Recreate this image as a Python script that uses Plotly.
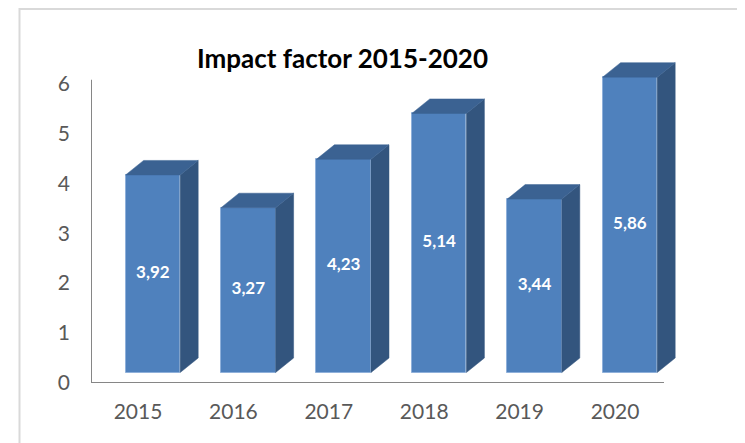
import plotly.graph_objects as go

# ---- data ----
years = ["2015", "2016", "2017", "2018", "2019", "2020"]
impact = [3.92, 3.27, 4.23, 5.14, 3.44, 5.86]
y_ticks = [0, 1, 2, 3, 4, 5, 6]
title_text = "Impact factor 2015-2020"

# ---- layout geometry (pixels, figure coordinates; page body adds 8px) ----
OFF = 8
W, H = 745, 443
L = 91 - OFF
T = 40 - OFF
plot_right = 705 - OFF
plot_bottom = 383 - OFF
R = W - plot_right
B = H - plot_bottom
plot_w = W - L - R
plot_h = H - T - B

PX_X = 95.4            # px per category
tick0_px = 138 - OFF   # centre of first category label
x_lo = -(tick0_px - L) / PX_X
x_hi = x_lo + plot_w / PX_X

PX_Y_AXIS = 49.95      # px per unit on the labelled axis
y_hi = plot_h / PX_Y_AXIS

PX_Y_BAR = 50.4        # px per unit on the bar (front) plane
base_px = 10.5         # front plane floor above the axis line
y2_lo = -base_px / PX_Y_BAR
y2_hi = y2_lo + plot_h / PX_Y_BAR

shift = 14.9 / PX_X    # bar front centre offset from label
half = 27.3 / PX_X     # half front width
dx = 18.0 / PX_X       # depth offsets
dy = 14.5 / PX_Y_BAR

FRONT = "#4F81BD"
SIDE = "#33557E"
TOP = "#3B6292"

idx = list(range(len(years)))
fig = go.Figure()

for i, v in zip(idx, impact):
    xl = i + shift - half
    xr = i + shift + half
    # side face
    fig.add_trace(go.Scatter(
        x=[xr, xr + dx, xr + dx, xr, xr],
        y=[0, dy, v + dy, v, 0],
        mode="lines", fill="toself", fillcolor=SIDE,
        line=dict(color=SIDE, width=0.5), yaxis="y2",
        hoverinfo="skip", showlegend=False))
    # top face
    fig.add_trace(go.Scatter(
        x=[xl, xr, xr + dx, xl + dx, xl],
        y=[v, v, v + dy, v + dy, v],
        mode="lines", fill="toself", fillcolor=TOP,
        line=dict(color=TOP, width=0.5), yaxis="y2",
        hoverinfo="skip", showlegend=False))

# front faces
fig.add_trace(go.Bar(
    x=idx, y=impact, width=2 * half, offset=shift - half,
    marker=dict(color=FRONT, line=dict(color="#8FB0DA", width=1)),
    yaxis="y2", showlegend=False, hoverinfo="skip"))

# data labels
fig.add_trace(go.Scatter(
    x=[i + shift for i in idx], y=[v / 2 for v in impact],
    mode="text",
    text=["<b>" + f"{v:.2f}".replace(".", ",") + "</b>" for v in impact],
    textposition="middle center",
    textfont=dict(family="Lato", size=17, color="white"),
    yaxis="y2", showlegend=False, hoverinfo="skip"))

# axis lines
fig.add_shape(type="line", xref="x", yref="y", x0=x_lo, x1=(664 - OFF - tick0_px) / PX_X,
              y0=0, y1=0, line=dict(color="#868686", width=2))
fig.add_shape(type="line", xref="x", yref="y", x0=x_lo, x1=x_lo,
              y0=0, y1=6.07, line=dict(color="#868686", width=2))

# chart border
fig.add_shape(type="rect", xref="paper", yref="paper",
              x0=(19.5 - OFF - L) / plot_w, x1=(W + 20 - L) / plot_w,
              y0=(plot_bottom - (H + 20)) / plot_h, y1=(plot_bottom - 1) / plot_h,
              line=dict(color="#D9D9D9", width=2), fillcolor="rgba(0,0,0,0)",
              layer="below")

fig.update_layout(
    width=W, height=H,
    margin=dict(l=L, r=R, t=T, b=B),
    paper_bgcolor="white", plot_bgcolor="white",
    font=dict(family="Lato", color="#595959"),
    title=dict(text="<b>" + title_text + "</b>", x=(342.5 - OFF) / W, xanchor="center",
               y=1 - (59 - OFF) / H, yanchor="middle",
               font=dict(family="Lato", size=26, color="black")),
    xaxis=dict(range=[x_lo, x_hi], tickvals=idx, ticktext=years,
               showgrid=False, zeroline=False, showline=False, ticks="",
               tickfont=dict(size=21, color="#595959"), ticklabelstandoff=14),
    yaxis=dict(range=[0, y_hi], tickvals=y_ticks, ticktext=[str(t) for t in y_ticks],
               showgrid=False, zeroline=False, showline=False, ticks="",
               tickfont=dict(size=21, color="#595959"), ticklabelstandoff=20),
    yaxis2=dict(range=[y2_lo, y2_hi], overlaying="y", visible=False),
    bargap=0,
)

fig.write_html("out.html")
